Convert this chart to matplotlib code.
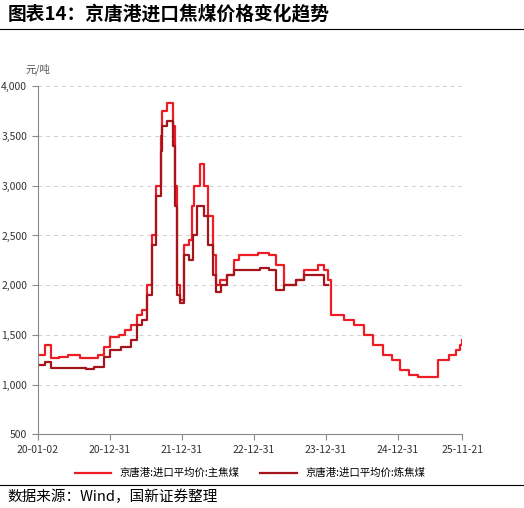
import matplotlib.pyplot as plt
import pandas as pd

plt.rcParams['font.family'] = ['Noto Sans CJK SC', 'DejaVu Sans']

# 主焦煤
main_dates = ['2020-01-02', '2020-02-10', '2020-03-10', '2020-04-20', '2020-06-01', '2020-08-01',
              '2020-10-01', '2020-11-01', '2020-12-01', '2021-01-01', '2021-02-15', '2021-03-20',
              '2021-04-20', '2021-05-20', '2021-06-15', '2021-07-10', '2021-08-05', '2021-08-25',
              '2021-09-15', '2021-09-25', '2021-10-20', '2021-11-15', '2021-11-25', '2021-12-10',
              '2021-12-25', '2022-01-10', '2022-02-05', '2022-02-20', '2022-03-05', '2022-04-05',
              '2022-04-25', '2022-05-15', '2022-06-10', '2022-06-22', '2022-07-15', '2022-08-20',
              '2022-09-20', '2022-10-20', '2023-01-20', '2023-03-20', '2023-04-25', '2023-06-01',
              '2023-08-01', '2023-09-10', '2023-11-20', '2023-12-20', '2024-01-10', '2024-01-25',
              '2024-03-30', '2024-05-20', '2024-07-10', '2024-08-25', '2024-10-15', '2024-12-01',
              '2025-01-10', '2025-02-25', '2025-04-10', '2025-07-20', '2025-09-15', '2025-10-20',
              '2025-11-10', '2025-11-21']
main_vals = [1300, 1400, 1270, 1280, 1300, 1270, 1270, 1300, 1380, 1480, 1500, 1550,
             1600, 1700, 1750, 2000, 2500, 3000, 3500, 3750, 3830, 3600, 3000, 2000,
             1850, 2400, 2450, 2800, 3000, 3220, 3000, 2700, 2300, 2000, 2050, 2100,
             2250, 2300, 2320, 2300, 2200, 2000, 2050, 2150, 2200, 2150, 2050, 1700,
             1650, 1600, 1500, 1400, 1300, 1250, 1150, 1100, 1080, 1250, 1300, 1350,
             1400, 1450]

# 炼焦煤
cok_dates = ['2020-01-02', '2020-02-10', '2020-03-10', '2020-06-01', '2020-09-01', '2020-10-15',
             '2020-12-01', '2021-01-01', '2021-03-01', '2021-04-20', '2021-05-20', '2021-06-15',
             '2021-07-10', '2021-08-05', '2021-08-25', '2021-09-15', '2021-09-25', '2021-10-20',
             '2021-11-15', '2021-11-25', '2021-12-10', '2021-12-25', '2022-01-10', '2022-02-05',
             '2022-02-25', '2022-03-20', '2022-04-25', '2022-05-15', '2022-06-10', '2022-06-22',
             '2022-07-20', '2022-08-20', '2022-09-20', '2023-02-01', '2023-03-20', '2023-04-25',
             '2023-06-01', '2023-08-01', '2023-09-10', '2023-11-20', '2023-12-20', '2024-01-10']
cok_vals = [1200, 1230, 1170, 1170, 1160, 1180, 1280, 1350, 1380, 1450, 1600, 1650,
            1900, 2400, 2900, 3350, 3600, 3650, 3400, 2800, 1900, 1820, 2300, 2250,
            2500, 2800, 2700, 2400, 2100, 1930, 2000, 2100, 2150, 2170, 2150, 1950,
            2000, 2050, 2100, 2100, 2000, 2000]

fig = plt.figure(figsize=(5.24, 5.08), dpi=100)
fig.text(0.015, 0.972, '图表14：京唐港进口焦煤价格变化趋势', fontsize=13.5, fontweight='bold',
         fontstyle='italic', va='center')
fig.add_artist(plt.Line2D([0.0, 1.0], [0.943, 0.943], color='black', lw=0.8))
fig.add_artist(plt.Line2D([0.0, 1.0], [0.045, 0.045], color='black', lw=0.8))
fig.text(0.015, 0.022, '数据来源：Wind，国新证券整理', fontsize=10.5, va='center')

ax = fig.add_axes([0.072, 0.145, 0.81, 0.685])
md = pd.to_datetime(main_dates)
cd = pd.to_datetime(cok_dates)
ax.plot(md, main_vals, color='#ee1c24', lw=1.6, drawstyle='steps-post', label='京唐港:进口平均价:主焦煤')
ax.plot(cd, cok_vals, color='#a4161c', lw=1.6, drawstyle='steps-post', label='京唐港:进口平均价:炼焦煤')

ax.set_ylim(500, 4000)
ax.set_yticks(range(500, 4001, 500))
ax.set_yticklabels([f'{v:,}' for v in range(500, 4001, 500)], fontsize=7.5, color='#333333')
xt = pd.to_datetime(['2020-01-02', '2020-12-31', '2021-12-31', '2022-12-31', '2023-12-31', '2024-12-31', '2025-11-21'])
ax.set_xticks(xt)
ax.set_xticklabels([d.strftime('%y-%m-%d') for d in xt], fontsize=7.5, color='#333333')
ax.set_xlim(xt[0], xt[-1])
ax.grid(axis='y', ls=(0, (4, 4)), color='#d0d0d0', lw=0.7)
for s in ['top', 'right']:
    ax.spines[s].set_visible(False)
ax.spines['left'].set_color('#888888')
ax.spines['bottom'].set_color('#888888')
ax.tick_params(length=4, color='#888888')
ax.text(0.0, 1.04, '元/吨', transform=ax.transAxes, fontsize=7.5, color='#555555', ha='center')
ax.legend(loc='upper center', bbox_to_anchor=(0.5, -0.07), ncol=2, frameon=False, fontsize=7.5,
          handlelength=3.5)

fig.savefig('out.png', dpi=100)
